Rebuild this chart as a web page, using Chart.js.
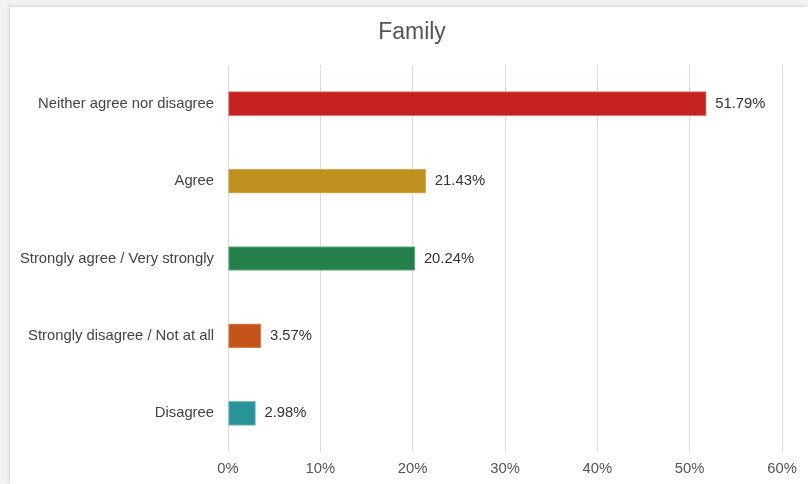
<!DOCTYPE html>
<html>
<head>
<meta charset="utf-8">
<script src="https://cdn.jsdelivr.net/npm/chart.js@4/dist/chart.umd.min.js"></script>
<style>
html,body{margin:0;padding:0;background:#f2f2f2;width:808px;height:484px;overflow:hidden;}
#card{position:absolute;left:10px;top:7px;width:798px;height:477px;background:#fff;box-shadow:-1px -1px 3px rgba(0,0,0,0.12);}
#wrap{position:absolute;left:0;top:0;width:808px;height:484px;}
</style>
</head>
<body>
<div id="card"></div>
<div id="wrap"><canvas id="c" width="808" height="484"></canvas></div>
<script>
const titleText = "Family";
const categories = ["Neither agree nor disagree","Agree","Strongly agree / Very strongly","Strongly disagree / Not at all","Disagree"];
const values = [51.79, 21.43, 20.24, 3.57, 2.98];
const barColors = ["#c5221f","#c0901f","#23804a","#c5541a","#2a9599"];
const borderColors = ["#d9746f","#d6b46a","#6fb08a","#dc9466","#77bcbd"];
const xTicks = [0,10,20,30,40,50,60];
const FONT = "'Liberation Sans', Arial, Helvetica, sans-serif";

const valueLabels = {
  id: 'valueLabels',
  afterDatasetsDraw(chart) {
    const ctx = chart.ctx;
    const meta = chart.getDatasetMeta(0);
    ctx.save();
    ctx.font = "14.8px " + FONT;
    ctx.fillStyle = "#333";
    ctx.textAlign = "left";
    ctx.textBaseline = "middle";
    meta.data.forEach((bar, i) => {
      ctx.fillText(values[i].toFixed(2) + "%", bar.x + 9, bar.y);
    });
    ctx.restore();
  }
};

const titleDraw = {
  id: 'titleDraw',
  afterDraw(chart) {
    const ctx = chart.ctx;
    ctx.save();
    ctx.font = "23px " + FONT;
    ctx.fillStyle = "#555";
    ctx.textAlign = "center";
    ctx.textBaseline = "middle";
    ctx.fillText(titleText, 412, 33);
    ctx.restore();
  }
};

new Chart(document.getElementById('c'), {
  type: 'bar',
  data: {
    labels: categories,
    datasets: [{
      data: values,
      backgroundColor: barColors,
      borderColor: borderColors,
      borderWidth: 1,
      barThickness: 24,
      borderSkipped: false
    }]
  },
  options: {
    indexAxis: 'y',
    responsive: false,
    animation: false,
    layout: { padding: { left: 0, right: 26, top: 65, bottom: 0 } },
    plugins: {
      legend: { display: false },
      tooltip: { enabled: false },
      title: { display: false }
    },
    scales: {
      x: {
        min: 0, max: 60,
        afterBuildTicks(scale) { scale.ticks = xTicks.map(v => ({ value: v })); },
        afterFit(scale) { scale.height = 32; },
        ticks: {
          callback: v => v + "%",
          color: "#555",
          font: { family: FONT, size: 14.8 },
          padding: 8,
          maxRotation: 0
        },
        grid: { color: "#dcdcdc", drawTicks: false, lineWidth: 1 },
        border: { display: false }
      },
      y: {
        afterFit(scale) { scale.width = 228; },
        ticks: {
          color: "#444",
          font: { family: FONT, size: 14.8 },
          padding: 14
        },
        grid: { display: false, drawTicks: false },
        border: { display: false }
      }
    }
  },
  plugins: [valueLabels, titleDraw]
});
</script>
</body>
</html>
